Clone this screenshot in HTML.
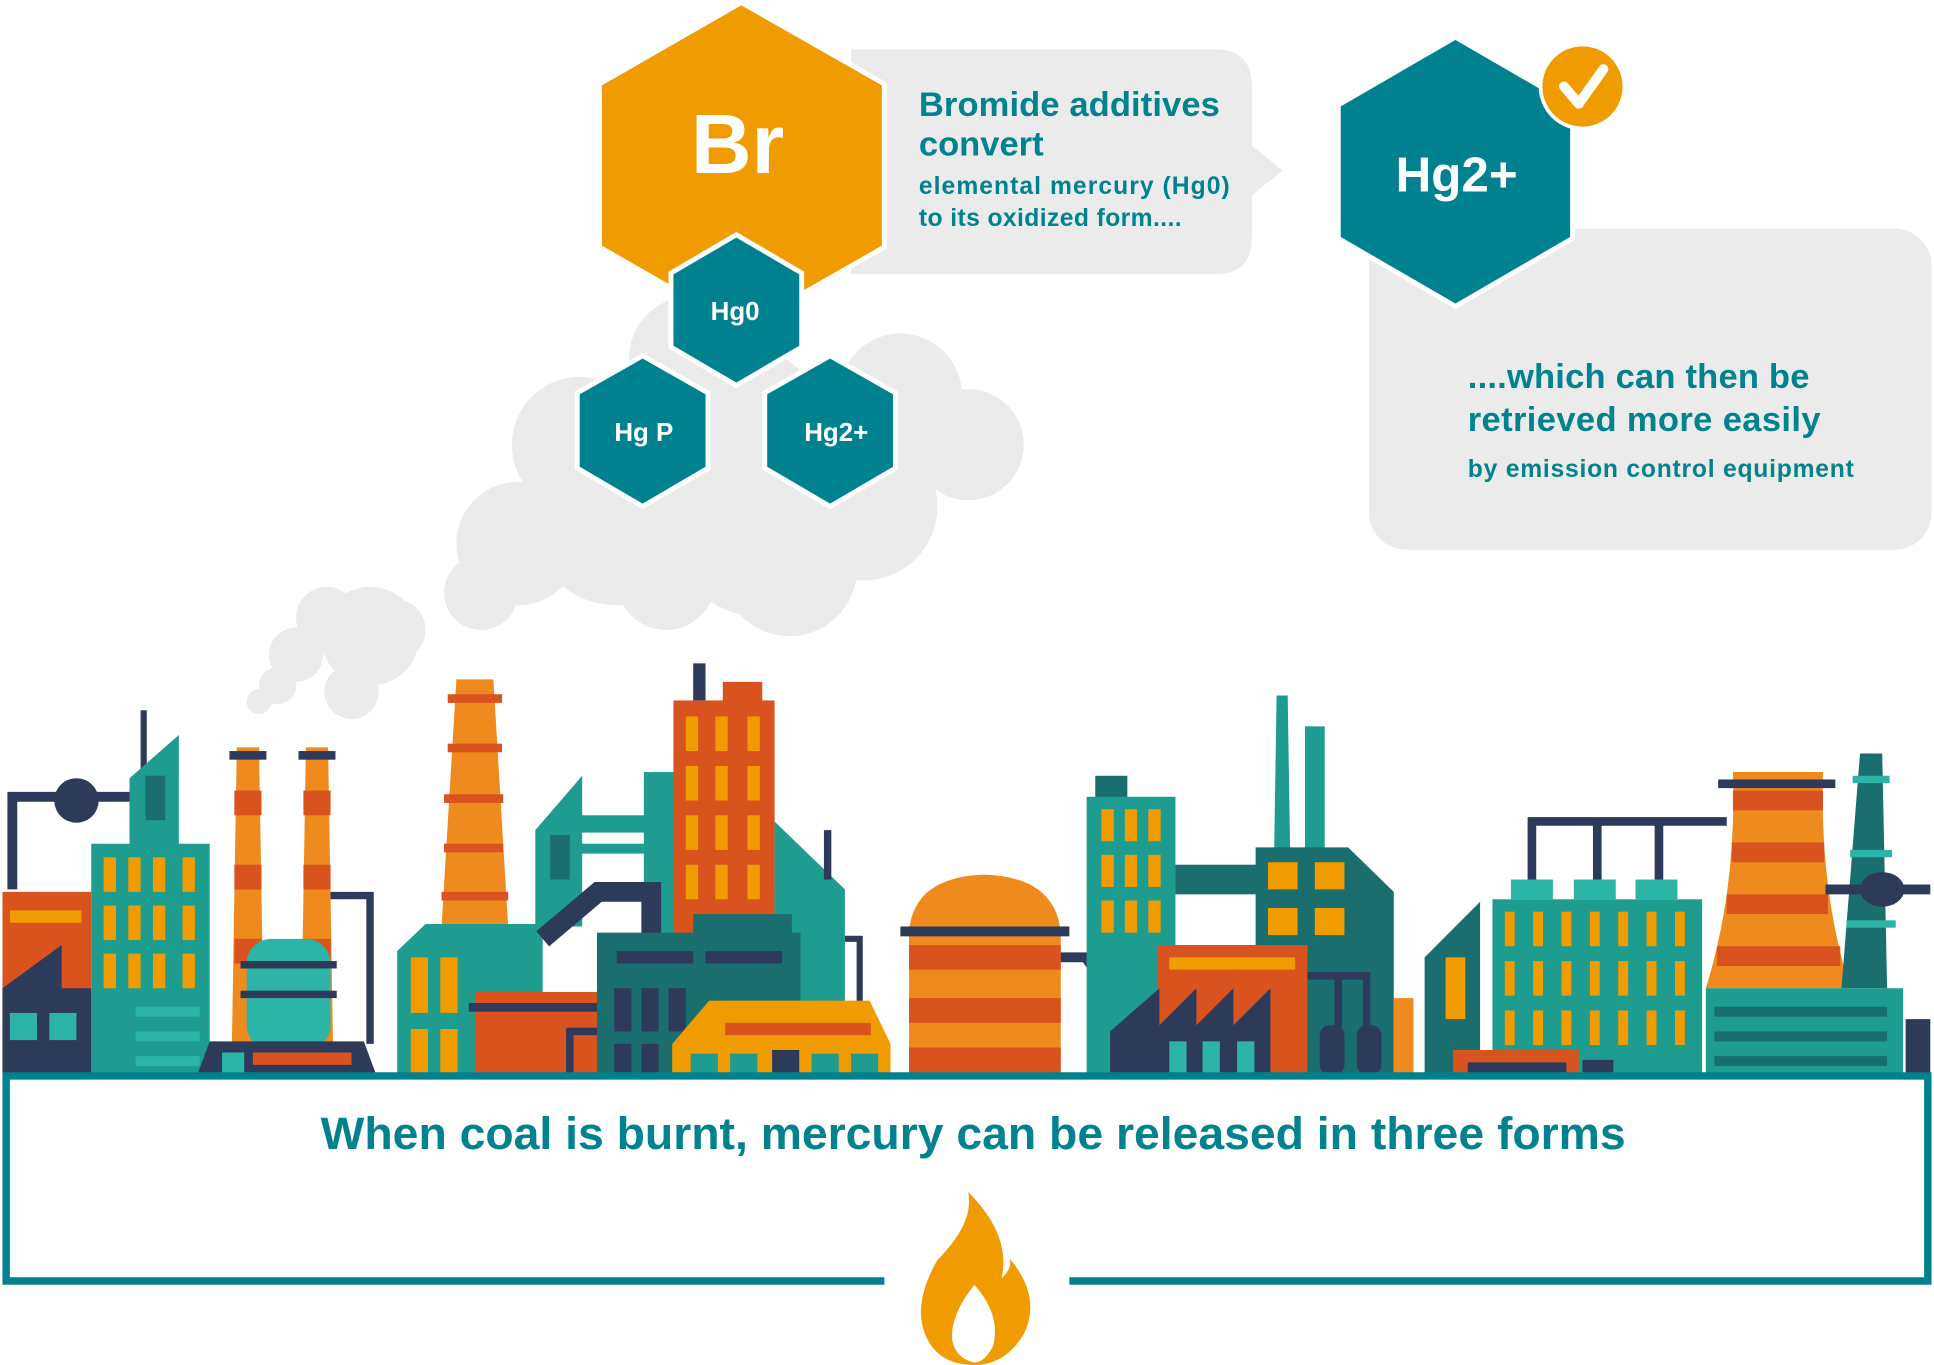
<!DOCTYPE html>
<html><head><meta charset="utf-8"><style>
html,body{margin:0;padding:0;background:#fff;}
svg{display:block;}
text{font-family:"Liberation Sans",sans-serif;font-weight:bold;}
</style></head><body>
<svg width="1934" height="1365" viewBox="0 0 1568 1105" preserveAspectRatio="none" xmlns="http://www.w3.org/2000/svg">
<rect width="1568" height="1105" fill="#fff"/>
<path d="M690 40 H985 Q1015 40 1015 70 V118 L1040 138 L1015 158 V192 Q1015 222 985 222 H690 Z" fill="#EBEBEB"/>
<polygon points="601,2 717,68 717,200 601,266 486,200 486,68" fill="#F09B00" stroke="#fff" stroke-width="4"/>
<text x="598" y="140" font-size="68" fill="#fff" text-anchor="middle">Br</text>
<text x="745" y="94" font-size="28" fill="#00828F" textLength="244">Bromide additives</text>
<text x="745" y="126" font-size="28" fill="#00828F">convert</text>
<text x="745" y="157" font-size="20" fill="#00828F" textLength="252">elemental mercury (Hg0)</text>
<text x="745" y="183" font-size="20" fill="#00828F" textLength="213">to its oxidized form....</text>
<rect x="1110" y="185" width="456" height="260" rx="30" fill="#EBEBEB"/>
<polygon points="1180,30 1275,85 1275,193 1180,248 1085,193 1085,85" fill="#00818F" stroke="#fff" stroke-width="4"/>
<text x="1181" y="155" font-size="40" fill="#fff" text-anchor="middle">Hg2+</text>
<circle cx="1283" cy="70" r="34" fill="#F09B00" stroke="#fff" stroke-width="3"/>
<path d="M1268 70 L1280 84 L1300 56" fill="none" stroke="#fff" stroke-width="8" stroke-linecap="round" stroke-linejoin="round"/>
<text x="1190" y="314" font-size="28" fill="#00828F" textLength="277">....which can then be</text>
<text x="1190" y="349" font-size="28" fill="#00828F" textLength="286">retrieved more easily</text>
<text x="1190" y="386" font-size="20" fill="#00828F" textLength="313">by emission control equipment</text>
<g fill="#EBEBEB">
<circle cx="560" cy="290" r="50"/><circle cx="730" cy="320" r="50"/><circle cx="785" cy="360" r="45"/>
<circle cx="470" cy="360" r="55"/><circle cx="420" cy="440" r="50"/><circle cx="500" cy="420" r="70"/>
<circle cx="620" cy="420" r="80"/><circle cx="700" cy="410" r="60"/><circle cx="640" cy="460" r="55"/>
<circle cx="540" cy="470" r="40"/><circle cx="390" cy="480" r="30"/><circle cx="600" cy="350" r="70"/>
<circle cx="300" cy="515" r="40"/><circle cx="265" cy="500" r="25"/><circle cx="240" cy="530" r="22"/><circle cx="320" cy="510" r="25"/>
<circle cx="285" cy="560" r="22"/><circle cx="225" cy="555" r="15"/><circle cx="210" cy="568" r="10"/>
</g>
<g stroke="#fff" stroke-width="4" fill="#00818F">
<polygon points="597,190 650,221 650,281 597,312 544,281 544,221"/>
<polygon points="521,288 574,318 574,379 521,410 468,379 468,318"/>
<polygon points="673,288 726,318 726,379 673,410 620,379 620,318"/>
</g>
<text x="596" y="259" font-size="21" fill="#fff" text-anchor="middle">Hg0</text>
<text x="522" y="357" font-size="21" fill="#fff" text-anchor="middle">Hg P</text>
<text x="678" y="357" font-size="21" fill="#fff" text-anchor="middle">Hg2+</text>
<g>
<path d="M10 720 V645 H60 M60 645 H110" stroke="#2E3A59" stroke-width="8" fill="none"/>
<circle cx="62" cy="648" r="18" fill="#2E3A59"/>
<rect x="2" y="722" width="72" height="148" fill="#D9531E"/>
<rect x="8" y="737" width="58" height="10" fill="#F09B00"/>
<polygon points="2,800 50,765 50,800 74,800 74,870 2,870" fill="#2E3A59"/>
<rect x="8" y="820" width="22" height="22" fill="#2CB5A6"/><rect x="40" y="820" width="22" height="22" fill="#2CB5A6"/>
<rect x="114" y="575" width="5" height="60" fill="#2E3A59"/>
<polygon points="105,630 145,595 145,685 105,685" fill="#1E9C8F"/>
<rect x="118" y="628" width="16" height="36" fill="#1A6E6E"/>
<rect x="74" y="683" width="96" height="187" fill="#1E9C8F"/>
<g fill="#F09B00"><rect x="84" y="694" width="10" height="28"/><rect x="104" y="694" width="10" height="28"/><rect x="124" y="694" width="10" height="28"/><rect x="148" y="694" width="10" height="28"/>
<rect x="84" y="733" width="10" height="28"/><rect x="104" y="733" width="10" height="28"/><rect x="124" y="733" width="10" height="28"/><rect x="148" y="733" width="10" height="28"/>
<rect x="84" y="772" width="10" height="28"/><rect x="104" y="772" width="10" height="28"/><rect x="124" y="772" width="10" height="28"/><rect x="148" y="772" width="10" height="28"/></g>
<g fill="#2CB5A6"><rect x="110" y="815" width="52" height="8"/><rect x="110" y="835" width="52" height="8"/><rect x="110" y="855" width="52" height="8"/></g>
<polygon points="192,605 210,605 214,845 188,845" fill="#EE8A1E"/>
<polygon points="248,605 266,605 270,845 244,845" fill="#EE8A1E"/>
<g fill="#D9531E"><rect x="190" y="640" width="22" height="20"/><rect x="190" y="700" width="22" height="20"/><rect x="190" y="760" width="22" height="20"/><rect x="246" y="640" width="22" height="20"/><rect x="246" y="700" width="22" height="20"/><rect x="246" y="760" width="22" height="20"/></g>
<rect x="186" y="608" width="30" height="7" fill="#2E3A59"/><rect x="242" y="608" width="30" height="7" fill="#2E3A59"/>
<path d="M268 725 H300 V845" stroke="#2E3A59" stroke-width="6" fill="none"/>
<rect x="200" y="760" width="68" height="90" rx="20" fill="#2CB5A6"/>
<rect x="195" y="778" width="78" height="6" fill="#2E3A59"/><rect x="195" y="802" width="78" height="6" fill="#2E3A59"/>
<polygon points="170,843 295,843 305,870 160,870" fill="#2E3A59"/>
<rect x="205" y="852" width="80" height="10" fill="#D9531E"/>
<rect x="180" y="852" width="18" height="18" fill="#2CB5A6"/>
<polygon points="370,550 400,550 412,750 358,750" fill="#EE8A1E"/>
<g fill="#D9531E"><rect x="363" y="562" width="44" height="7"/><rect x="363" y="602" width="44" height="7"/><rect x="360" y="643" width="48" height="7"/><rect x="360" y="683" width="48" height="7"/><rect x="358" y="722" width="54" height="7"/></g>
<polygon points="322,770 345,748 440,748 440,870 322,870" fill="#1E9C8F"/>
<g fill="#F09B00"><rect x="333" y="775" width="14" height="45"/><rect x="357" y="775" width="14" height="45"/><rect x="333" y="833" width="14" height="37"/><rect x="357" y="833" width="14" height="37"/></g>
<polygon points="434,672 472,628 472,750 434,750" fill="#1E9C8F"/>
<rect x="446" y="676" width="16" height="36" fill="#1A6E6E"/>
<rect x="470" y="660" width="55" height="14" fill="#1E9C8F"/><rect x="470" y="683" width="55" height="8" fill="#1E9C8F"/>
<rect x="522" y="625" width="25" height="140" fill="#1E9C8F"/>
<rect x="562" y="537" width="10" height="30" fill="#2E3A59"/>
<rect x="586" y="552" width="32" height="20" fill="#D9531E"/>
<rect x="546" y="567" width="82" height="200" fill="#D9531E"/>
<g fill="#F09B00"><rect x="556" y="580" width="10" height="28"/><rect x="580" y="580" width="10" height="28"/><rect x="606" y="580" width="10" height="28"/>
<rect x="556" y="620" width="10" height="28"/><rect x="580" y="620" width="10" height="28"/><rect x="606" y="620" width="10" height="28"/>
<rect x="556" y="660" width="10" height="28"/><rect x="580" y="660" width="10" height="28"/><rect x="606" y="660" width="10" height="28"/>
<rect x="556" y="700" width="10" height="28"/><rect x="580" y="700" width="10" height="28"/><rect x="606" y="700" width="10" height="28"/></g>
<polygon points="628,665 685,720 685,870 628,870" fill="#1E9C8F"/>
<rect x="668" y="672" width="6" height="40" fill="#2E3A59"/>
<path d="M685 760 H697 V870" stroke="#2E3A59" stroke-width="5" fill="none"/>
<path d="M440 760 L485 722 H528 V760" stroke="#2E3A59" stroke-width="16" fill="none"/>
<rect x="385" y="803" width="100" height="67" fill="#D9531E"/>
<rect x="380" y="812" width="105" height="7" fill="#2E3A59"/>
<path d="M462 870 V835 H490" stroke="#2E3A59" stroke-width="6" fill="none"/>
<rect x="484" y="755" width="165" height="115" fill="#1A6E6E"/>
<rect x="562" y="740" width="80" height="18" fill="#1A6E6E"/>
<rect x="500" y="770" width="62" height="10" fill="#2E3A59"/><rect x="572" y="770" width="62" height="10" fill="#2E3A59"/>
<g fill="#2E3A59"><rect x="498" y="800" width="14" height="35"/><rect x="520" y="800" width="14" height="35"/><rect x="542" y="800" width="14" height="35"/><rect x="498" y="845" width="14" height="25"/><rect x="520" y="845" width="14" height="25"/></g>
<polygon points="545,845 575,810 705,810 722,845 722,870 545,870" fill="#F09B00"/>
<rect x="588" y="828" width="118" height="10" fill="#D9531E"/>
<g fill="#1E9C8F"><rect x="560" y="853" width="22" height="17"/><rect x="592" y="853" width="22" height="17"/><rect x="658" y="853" width="22" height="17"/><rect x="690" y="853" width="22" height="17"/></g>
<rect x="626" y="850" width="22" height="20" fill="#2E3A59"/>
<path d="M737 755 Q740 710 798 708 Q856 710 860 755 Z" fill="#EE8A1E"/>
<rect x="737" y="755" width="123" height="115" fill="#EE8A1E"/>
<g fill="#D9531E"><rect x="737" y="765" width="123" height="20"/><rect x="737" y="808" width="123" height="20"/><rect x="737" y="848" width="123" height="20"/></g>
<rect x="730" y="750" width="137" height="8" fill="#2E3A59"/>
<path d="M860 775 H880 L920 830" stroke="#2E3A59" stroke-width="8" fill="none"/>
<rect x="888" y="628" width="26" height="18" fill="#1A6E6E"/>
<rect x="881" y="645" width="72" height="225" fill="#1E9C8F"/>
<g fill="#F09B00"><rect x="893" y="655" width="10" height="26"/><rect x="912" y="655" width="10" height="26"/><rect x="931" y="655" width="10" height="26"/>
<rect x="893" y="692" width="10" height="26"/><rect x="912" y="692" width="10" height="26"/><rect x="931" y="692" width="10" height="26"/>
<rect x="893" y="729" width="10" height="26"/><rect x="912" y="729" width="10" height="26"/><rect x="931" y="729" width="10" height="26"/></g>
<rect x="953" y="700" width="70" height="24" fill="#1A6E6E"/>
<polygon points="1035,563 1044,563 1046,690 1033,690" fill="#1E9C8F"/>
<rect x="1058" y="588" width="16" height="102" fill="#1E9C8F"/>
<polygon points="1018,686 1093,686 1130,722 1130,870 1018,870" fill="#1A6E6E"/>
<g fill="#F09B00"><rect x="1028" y="698" width="24" height="22"/><rect x="1066" y="698" width="24" height="22"/><rect x="1028" y="735" width="24" height="22"/><rect x="1066" y="735" width="24" height="22"/></g>
<rect x="1130" y="808" width="16" height="62" fill="#EE8A1E"/>
<rect x="938" y="765" width="122" height="105" fill="#D9531E"/>
<rect x="948" y="775" width="102" height="10" fill="#F09B00"/>
<polygon points="900,835 940,800 940,830 970,800 970,830 1000,800 1000,830 1030,800 1030,870 900,870" fill="#2E3A59"/>
<g fill="#2CB5A6"><rect x="948" y="843" width="14" height="27"/><rect x="975" y="843" width="14" height="27"/><rect x="1003" y="843" width="14" height="27"/></g>
<path d="M1060 790 H1108 V870 M1085 790 V870" stroke="#2E3A59" stroke-width="6" fill="none"/>
<rect x="1070" y="830" width="20" height="40" rx="8" fill="#2E3A59"/><rect x="1100" y="830" width="20" height="40" rx="8" fill="#2E3A59"/>
<polygon points="1155,775 1200,730 1200,870 1155,870" fill="#1A6E6E"/>
<rect x="1172" y="775" width="16" height="50" fill="#F09B00"/>
<path d="M1242 715 V665 H1400 M1295 665 V715 M1345 665 V715" stroke="#2E3A59" stroke-width="7" fill="none"/>
<rect x="1210" y="728" width="170" height="142" fill="#1E9C8F"/>
<g fill="#2CB5A6"><rect x="1225" y="712" width="34" height="16"/><rect x="1276" y="712" width="34" height="16"/><rect x="1326" y="712" width="34" height="16"/></g>
<g fill="#F09B00">
<rect x="1220" y="738" width="8" height="28"/><rect x="1243" y="738" width="8" height="28"/><rect x="1266" y="738" width="8" height="28"/><rect x="1289" y="738" width="8" height="28"/><rect x="1312" y="738" width="8" height="28"/><rect x="1335" y="738" width="8" height="28"/><rect x="1358" y="738" width="8" height="28"/>
<rect x="1220" y="778" width="8" height="28"/><rect x="1243" y="778" width="8" height="28"/><rect x="1266" y="778" width="8" height="28"/><rect x="1289" y="778" width="8" height="28"/><rect x="1312" y="778" width="8" height="28"/><rect x="1335" y="778" width="8" height="28"/><rect x="1358" y="778" width="8" height="28"/>
<rect x="1220" y="818" width="8" height="28"/><rect x="1243" y="818" width="8" height="28"/><rect x="1266" y="818" width="8" height="28"/><rect x="1289" y="818" width="8" height="28"/><rect x="1312" y="818" width="8" height="28"/><rect x="1335" y="818" width="8" height="28"/><rect x="1358" y="818" width="8" height="28"/></g>
<rect x="1178" y="850" width="102" height="20" fill="#D9531E"/><rect x="1190" y="860" width="80" height="10" fill="#2E3A59"/>
<rect x="1283" y="858" width="25" height="12" fill="#2E3A59"/>
<path d="M1405 625 H1478 Q1475 720 1500 800 H1383 Q1408 720 1405 625 Z" fill="#EE8A1E"/>
<g fill="#D9531E"><rect x="1405" y="640" width="73" height="16"/><rect x="1404" y="682" width="75" height="16"/><rect x="1400" y="724" width="82" height="16"/><rect x="1392" y="766" width="100" height="16"/></g>
<rect x="1393" y="631" width="95" height="7" fill="#2E3A59"/>
<polygon points="1508,610 1526,610 1530,800 1493,800" fill="#1A6E6E"/>
<g fill="#2CB5A6"><rect x="1502" y="628" width="30" height="6"/><rect x="1500" y="688" width="34" height="6"/><rect x="1497" y="745" width="40" height="6"/></g>
<path d="M1480 720 H1565" stroke="#2E3A59" stroke-width="8"/>
<ellipse cx="1526" cy="720" rx="18" ry="14" fill="#2E3A59"/>
<rect x="1383" y="800" width="160" height="70" fill="#1E9C8F"/>
<g fill="#1A6E6E"><rect x="1390" y="815" width="140" height="8"/><rect x="1390" y="835" width="140" height="8"/><rect x="1390" y="855" width="140" height="8"/></g>
<rect x="1545" y="825" width="20" height="45" fill="#2E3A59"/>
</g>
<path d="M717 1037 H5 V871 H1563 V1037 H867" fill="none" stroke="#00818F" stroke-width="6"/>
<text x="260" y="930" font-size="37" fill="#00828F" textLength="1058" lengthAdjust="spacingAndGlyphs">When coal is burnt, mercury can be released in three forms</text>
<path d="M785 965 Q820 1000 812 1035 Q822 1025 818 1018 Q845 1050 830 1080 Q815 1105 790 1105 Q760 1105 750 1080 Q740 1055 760 1020 Q790 990 785 965 Z" fill="#F09B00"/>
<path d="M790 1040 Q812 1065 805 1090 Q798 1103 790 1103 Q775 1100 772 1085 Q770 1065 790 1040 Z" fill="#fff"/>
</svg>
</body></html>
